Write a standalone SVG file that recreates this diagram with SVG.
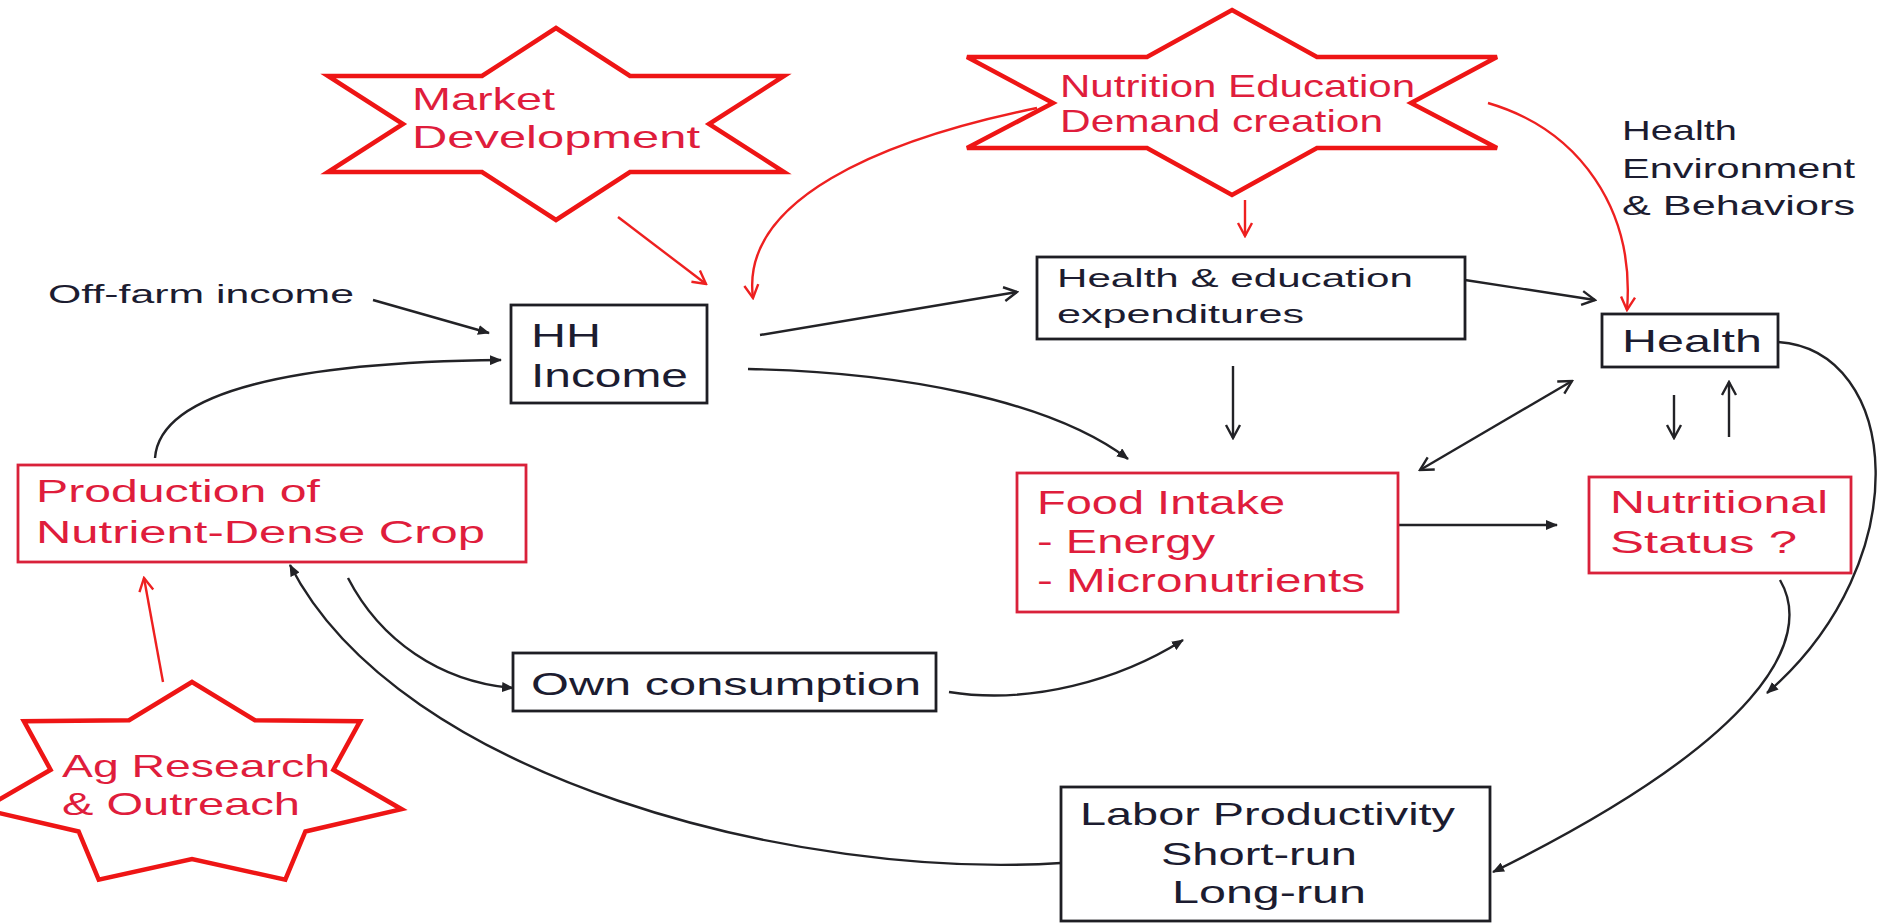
<svg xmlns="http://www.w3.org/2000/svg" width="1885" height="923" viewBox="0 0 1885 923">
<style>
  .bg { fill: #ffffff; }
  .star { fill: #ffffff; stroke: #ee1515; stroke-width: 4.5; stroke-linejoin: miter; }
  .boxk { fill: #ffffff; stroke: #1e1e24; stroke-width: 2.8; }
  .boxr { fill: #ffffff; stroke: #d9213a; stroke-width: 2.8; }
  .tk { font-family: "Liberation Sans", Arial, sans-serif; fill: #1c1c30; }
  .tr { font-family: "Liberation Sans", Arial, sans-serif; fill: #df1d3c; }
  .ck { fill: none; stroke: #222226; stroke-width: 2.4; }
  .cr { fill: none; stroke: #ee2020; stroke-width: 2.4; }
</style>
<defs>
  <marker id="fb" viewBox="0 0 12 10" refX="11" refY="5" markerWidth="12" markerHeight="10" markerUnits="userSpaceOnUse" orient="auto">
    <path d="M0,0 L12,5 L0,10 z" fill="#222226"/>
  </marker>
  <marker id="ob" viewBox="0 0 18 18" refX="16" refY="9" markerWidth="18" markerHeight="18" markerUnits="userSpaceOnUse" orient="auto-start-reverse">
    <path d="M3,2 L16,9 L3,16" fill="none" stroke="#222226" stroke-width="2.4"/>
  </marker>
  <marker id="or" viewBox="0 0 18 18" refX="16" refY="9" markerWidth="18" markerHeight="18" markerUnits="userSpaceOnUse" orient="auto">
    <path d="M3,2 L16,9 L3,16" fill="none" stroke="#ee2020" stroke-width="2.4"/>
  </marker>
</defs>
<rect class="bg" x="0" y="0" width="1885" height="923"/>

<g id="connectors">
  <!-- red influences -->
  <line class="cr" x1="618" y1="217" x2="706" y2="284" marker-end="url(#or)"/>
  <path class="cr" d="M1037,108 C880,140 740,200 753,298" marker-end="url(#or)"/>
  <line class="cr" x1="1245" y1="200" x2="1245" y2="236" marker-end="url(#or)"/>
  <path class="cr" d="M1488,103 C1580,130 1635,210 1627,310" marker-end="url(#or)"/>
  <line class="cr" x1="163" y1="682" x2="144" y2="578" marker-end="url(#or)"/>
  <!-- black flows -->
  <line class="ck" x1="373" y1="300" x2="489" y2="333" marker-end="url(#fb)"/>
  <path class="ck" d="M155,458 C160,390 300,362 501,360" marker-end="url(#fb)"/>
  <line class="ck" x1="760" y1="335" x2="1017" y2="292" marker-end="url(#ob)"/>
  <path class="ck" d="M748,369 C900,372 1050,400 1128,459" marker-end="url(#fb)"/>
  <line class="ck" x1="1465" y1="280" x2="1595" y2="300" marker-end="url(#ob)"/>
  <line class="ck" x1="1233" y1="366" x2="1233" y2="438" marker-end="url(#ob)"/>
  <line class="ck" x1="1420" y1="470" x2="1572" y2="381" marker-start="url(#ob)" marker-end="url(#ob)"/>
  <line class="ck" x1="1674" y1="395" x2="1674" y2="438" marker-end="url(#ob)"/>
  <line class="ck" x1="1729" y1="437" x2="1729" y2="382" marker-end="url(#ob)"/>
  <line class="ck" x1="1398" y1="525" x2="1557" y2="525" marker-end="url(#fb)"/>
  <path class="ck" d="M1778,342 C1900,350 1920,560 1767,693" marker-end="url(#fb)"/>
  <path class="ck" d="M1780,580 C1815,640 1760,740 1493,872" marker-end="url(#fb)"/>
  <path class="ck" d="M1061,863 C800,880 400,780 290,565" marker-end="url(#fb)"/>
  <path class="ck" d="M348,578 C380,640 440,682 513,688" marker-end="url(#fb)"/>
  <path class="ck" d="M949,692 C1030,705 1120,680 1183,640" marker-end="url(#fb)"/>
</g>

<g id="market-development">
  <polygon class="star" points="556,28 630,76 784,76 709,124 784,172 630,172 556,220 482,172 328,172 403,124 328,76 482,76"/>
  <text class="tr" x="412" y="110" font-size="32" textLength="143" lengthAdjust="spacingAndGlyphs">Market</text>
  <text class="tr" x="412" y="148" font-size="32" textLength="288" lengthAdjust="spacingAndGlyphs">Development</text>
</g>

<g id="nutrition-education">
  <polygon class="star" points="1232,10 1317,57 1497,57 1411,103 1497,148 1317,148 1232,195 1147,148 967,148 1053,103 967,57 1147,57"/>
  <text class="tr" x="1060" y="97" font-size="32" textLength="355" lengthAdjust="spacingAndGlyphs">Nutrition  Education</text>
  <text class="tr" x="1060" y="132" font-size="32" textLength="323" lengthAdjust="spacingAndGlyphs">Demand  creation</text>
</g>

<g id="ag-research">
  <polygon class="star" points="192,682 254.9,720.2 360.1,721.2 333.4,769.8 401.6,809.2 305.4,831.5 285.3,879.7 192,859 98.7,879.7 78.6,831.5 -17.6,809.2 50.6,769.8 23.9,721.2 129.1,720.2"/>
  <text class="tr" x="62" y="777" font-size="32" textLength="268" lengthAdjust="spacingAndGlyphs">Ag Research</text>
  <text class="tr" x="62" y="815" font-size="32" textLength="238" lengthAdjust="spacingAndGlyphs">&amp; Outreach</text>
</g>

<g id="health-environment-label">
  <text class="tk" x="1622" y="140" font-size="28" textLength="115" lengthAdjust="spacingAndGlyphs">Health</text>
  <text class="tk" x="1622" y="178" font-size="28" textLength="233" lengthAdjust="spacingAndGlyphs">Environment</text>
  <text class="tk" x="1622" y="215" font-size="28" textLength="233" lengthAdjust="spacingAndGlyphs">&amp; Behaviors</text>
</g>

<g id="off-farm-income">
  <text class="tk" x="48" y="303" font-size="26" textLength="306" lengthAdjust="spacingAndGlyphs">Off-farm income</text>
</g>

<g id="hh-income">
  <rect class="boxk" x="511" y="305" width="196" height="98"/>
  <text class="tk" x="531" y="347" font-size="33" textLength="70" lengthAdjust="spacingAndGlyphs">HH</text>
  <text class="tk" x="531" y="387" font-size="33" textLength="157" lengthAdjust="spacingAndGlyphs">Income</text>
</g>

<g id="health-education-expenditures">
  <rect class="boxk" x="1037" y="257" width="428" height="82"/>
  <text class="tk" x="1057" y="287" font-size="26" textLength="356" lengthAdjust="spacingAndGlyphs">Health  &amp; education</text>
  <text class="tk" x="1057" y="323" font-size="26" textLength="247" lengthAdjust="spacingAndGlyphs">expenditures</text>
</g>

<g id="health">
  <rect class="boxk" x="1602" y="314" width="176" height="53"/>
  <text class="tk" x="1622" y="352" font-size="32" textLength="140" lengthAdjust="spacingAndGlyphs">Health</text>
</g>

<g id="production">
  <rect class="boxr" x="18" y="465" width="508" height="97"/>
  <text class="tr" x="36" y="502" font-size="31" textLength="284" lengthAdjust="spacingAndGlyphs">Production of</text>
  <text class="tr" x="36" y="543" font-size="31" textLength="449" lengthAdjust="spacingAndGlyphs">Nutrient-Dense Crop</text>
</g>

<g id="food-intake">
  <rect class="boxr" x="1017" y="473" width="381" height="139"/>
  <text class="tr" x="1037" y="514" font-size="33" textLength="248" lengthAdjust="spacingAndGlyphs">Food Intake</text>
  <text class="tr" x="1037" y="553" font-size="33" textLength="178" lengthAdjust="spacingAndGlyphs">- Energy</text>
  <text class="tr" x="1037" y="592" font-size="33" textLength="328" lengthAdjust="spacingAndGlyphs">- Micronutrients</text>
</g>

<g id="nutritional-status">
  <rect class="boxr" x="1589" y="477" width="262" height="96"/>
  <text class="tr" x="1610" y="513" font-size="32" textLength="218" lengthAdjust="spacingAndGlyphs">Nutritional</text>
  <text class="tr" x="1610" y="553" font-size="32" textLength="187" lengthAdjust="spacingAndGlyphs">Status  ?</text>
</g>

<g id="own-consumption">
  <rect class="boxk" x="513" y="653" width="423" height="58"/>
  <text class="tk" x="531" y="695" font-size="31" textLength="390" lengthAdjust="spacingAndGlyphs">Own consumption</text>
</g>

<g id="labor-productivity">
  <rect class="boxk" x="1061" y="787" width="429" height="134"/>
  <text class="tk" x="1080" y="825" font-size="32" textLength="375" lengthAdjust="spacingAndGlyphs">Labor Productivity</text>
  <text class="tk" x="1161" y="865" font-size="32" textLength="196" lengthAdjust="spacingAndGlyphs">Short-run</text>
  <text class="tk" x="1172" y="903" font-size="32" textLength="194" lengthAdjust="spacingAndGlyphs">Long-run</text>
</g>
</svg>
